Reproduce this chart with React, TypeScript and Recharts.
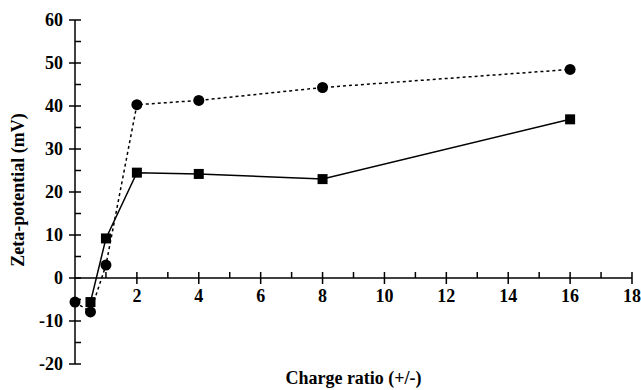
import React from 'react';
import { LineChart, Line, XAxis, YAxis, ReferenceLine, ReferenceDot, Label } from 'recharts';

// charge ratio (+/-) vs zeta-potential (mV)
const ratioCircles = [0, 0.5, 1, 2, 4, 8, 16];
const zetaCircles = [-5.6, -7.9, 3.0, 40.3, 41.3, 44.3, 48.5];
const ratioSquares = [0.5, 1, 2, 4, 8, 16];
const zetaSquares = [-5.6, 9.2, 24.5, 24.2, 23.0, 36.9];

const xTicks = [1, 2, 3, 4, 5, 6, 7, 8, 9, 10, 11, 12, 13, 14, 15, 16, 17, 18];
const yTicks = [-20, -15, -10, -5, 0, 5, 10, 15, 20, 25, 30, 35, 40, 45, 50, 55, 60];

const circleData = ratioCircles.map((x, i) => ({ x, y: zetaCircles[i] }));
const squareData = ratioSquares.map((x, i) => ({ x, y: zetaSquares[i] }));

const FONT = '"Liberation Serif", "Times New Roman", serif';
const INK = '#000';
const FS = 18;

const YTick = (props: any) => {
  const { x, y, payload } = props;
  const major = payload.value % 10 === 0;
  return (
    <g>
      <line x1={major ? x - 6 : x} x2={x + 6} y1={y} y2={y} stroke={INK} strokeWidth={1.5} />
      {major && (
        <text x={x - 12} y={y} dy={6} textAnchor="end" fontFamily={FONT} fontWeight="bold" fontSize={FS} fill={INK}>
          {payload.value}
        </text>
      )}
    </g>
  );
};

const makeXTick = (value: number) => (props: any) => {
  const { cx, cy } = props;
  const major = value % 2 === 0;
  return (
    <g>
      <line x1={cx} x2={cx} y1={cy - 6} y2={major ? cy + 6 : cy} stroke={INK} strokeWidth={1.5} />
      {major && (
        <text x={cx} y={cy + 24} textAnchor="middle" fontFamily={FONT} fontWeight="bold" fontSize={FS} fill={INK}>
          {value}
        </text>
      )}
    </g>
  );
};

const SquareDot = (props: any) => {
  const { cx, cy, index } = props;
  return <rect key={`sq-${index}`} x={cx - 5} y={cy - 5} width={10} height={10} fill={INK} />;
};

const CircleDot = (props: any) => {
  const { cx, cy, index } = props;
  return <circle key={`ci-${index}`} cx={cx} cy={cy} r={5.5} fill={INK} />;
};

const YTitle = (props: any) => {
  const vb = props.viewBox || { x: 0, y: 20, height: 344 };
  const cx = vb.x + 18;
  const cy = vb.y + vb.height / 2 - 2;
  return (
    <text x={cx} y={cy} transform={`rotate(-90 ${cx} ${cy})`} textAnchor="middle" dominantBaseline="central"
      fontFamily={FONT} fontWeight="bold" fontSize={FS} fill={INK}>
      Zeta-potential (mV)
    </text>
  );
};

const XTitle = (props: any) => {
  const vb = props.viewBox || { x: 75, y: 364, width: 557 };
  return (
    <text x={vb.x + vb.width / 2} y={vb.y + 20} textAnchor="middle"
      fontFamily={FONT} fontWeight="bold" fontSize={FS} fill={INK}>
      Charge ratio (+/-)
    </text>
  );
};

export default function App() {
  return (
    <div style={{ position: 'absolute', left: 0, top: 0, width: 641, height: 390, background: '#fff' }}>
      <LineChart width={641} height={390} margin={{ top: 20, right: 9, bottom: 0, left: 0 }}>
        <XAxis
          type="number"
          dataKey="x"
          domain={[0, 18]}
          ticks={[]}
          axisLine={false}
          tickLine={false}
          tick={false}
          height={26}
        >
          <Label content={XTitle} />
        </XAxis>
        <YAxis
          type="number"
          domain={[-20, 60]}
          ticks={yTicks}
          interval={0}
          width={75}
          tickSize={0}
          tickMargin={0}
          tickLine={false}
          tick={YTick}
          axisLine={{ stroke: INK, strokeWidth: 1.5 }}
        >
          <Label content={YTitle} />
        </YAxis>
        <ReferenceLine y={0} stroke={INK} strokeWidth={1.5} />
        {xTicks.map((t) => (
          <ReferenceDot key={t} x={t} y={0} ifOverflow="visible" shape={makeXTick(t)} />
        ))}
        <Line
          data={circleData}
          dataKey="y"
          type="linear"
          stroke={INK}
          strokeWidth={1.5}
          strokeDasharray="3 3"
          dot={CircleDot}
          isAnimationActive={false}
        />
        <Line
          data={squareData}
          dataKey="y"
          type="linear"
          stroke={INK}
          strokeWidth={1.5}
          dot={SquareDot}
          isAnimationActive={false}
        />
      </LineChart>
    </div>
  );
}
